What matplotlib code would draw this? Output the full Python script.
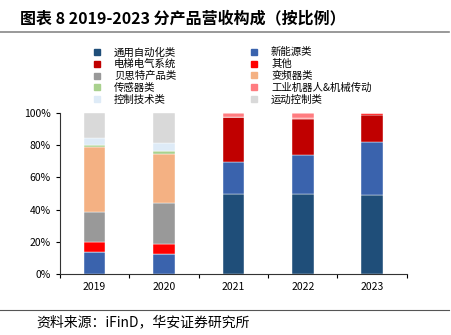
import matplotlib.pyplot as plt
import numpy as np
from matplotlib.lines import Line2D
from matplotlib.ticker import PercentFormatter

plt.rcParams['font.family'] = ['Noto Sans CJK SC', 'DejaVu Sans']

years = ['2019', '2020', '2021', '2022', '2023']

# share of revenue (%) by product line
labels = ['通用自动化类', '新能源类', '电梯电气系统', '其他', '贝思特产品类',
          '变频器类', '传感器类', '工业机器人&机械传动', '控制技术类', '运动控制类']
tongyong = [0, 0, 49.9, 49.9, 49.3]
xinnengyuan = [13.7, 12.7, 19.7, 24.1, 32.8]
dianti = [0, 0, 27.7, 22.3, 16.8]
qita = [6.3, 5.8, 0, 0.8, 1.1]
beisite = [18.7, 25.8, 0, 0, 0]
bianpin = [40.3, 30.5, 0, 0, 0]
chuanganqi = [1.2, 1.3, 0, 0, 0]
jiqiren = [0, 0, 2.7, 2.9, 0]
kongzhi = [4.4, 5.4, 0, 0, 0]
yundong = [15.4, 18.5, 0, 0, 0]
series = [tongyong, xinnengyuan, dianti, qita, beisite,
          bianpin, chuanganqi, jiqiren, kongzhi, yundong]
colors = ['#1F4E79', '#3A63AD', '#C00000', '#FF0000', '#999999',
          '#F4B183', '#A9D18E', '#FF7C80', '#DEEBF7', '#D9D9D9']

fig = plt.figure(figsize=(4.51, 3.35), dpi=100)
ax = fig.add_axes([0.133, 0.182, 0.769, 0.481])

x = np.arange(len(years))
bottom = np.zeros(len(years))
for vals, c in zip(series, colors):
    v = np.array(vals)
    ax.bar(x, v, 0.31, bottom=bottom, color=c, edgecolor='white', linewidth=0.3)
    bottom += v

ax.set_xlim(-0.5, 4.5)
ax.set_ylim(0, 100)
ax.set_yticks([0, 20, 40, 60, 80, 100])
ax.yaxis.set_major_formatter(PercentFormatter(decimals=0))
ax.set_xticks(x)
ax.set_xticklabels(years)
ax.set_xticks(np.arange(-0.5, 5, 1), minor=True)
ax.tick_params(axis='x', which='major', length=0, labelsize=7.5, pad=6)
ax.tick_params(axis='x', which='minor', length=3, width=0.8)
ax.tick_params(axis='y', length=3, width=0.8, labelsize=7.5)
for s in ['top', 'right']:
    ax.spines[s].set_visible(False)
ax.spines['left'].set_color('#333333')
ax.spines['bottom'].set_color('#333333')

# legend, two columns filled row by row
order = [0, 2, 4, 6, 8, 1, 3, 5, 7, 9]
handles = [Line2D([], [], marker='s', linestyle='none', markersize=4,
                  color=colors[i]) for i in order]
fig.legend(handles, [labels[i] for i in order], ncol=2, frameon=False,
           loc='upper left', bbox_to_anchor=(0.195, 0.872), fontsize=7.5,
           handlelength=1.0, handletextpad=1.1, columnspacing=7.0,
           labelspacing=0.17, borderaxespad=0)

fig.text(0.045, 0.945, '图表 8 2019-2023 分产品营收构成（按比例）',
         fontsize=11.5, fontweight='bold', va='center')
fig.add_artist(Line2D([0, 0.995], [0.905, 0.905], color='#888888', lw=1.2))
fig.add_artist(Line2D([0, 0.995], [0.075, 0.075], color='#555555', lw=0.8))
fig.text(0.08, 0.038, '资料来源：iFinD，华安证券研究所', fontsize=10, va='center')

plt.savefig('out.png', dpi=100)
